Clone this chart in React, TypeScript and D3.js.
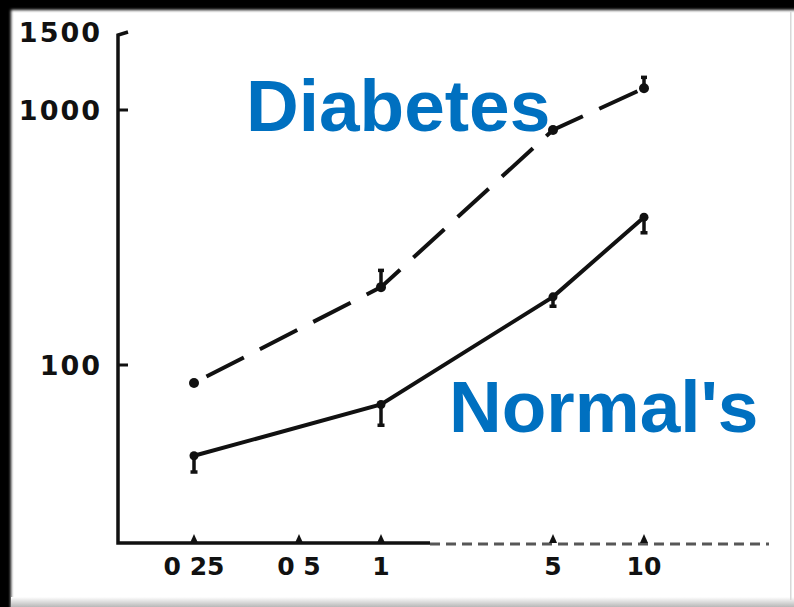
import React from "react";
import * as d3 from "d3";

const doses = [0.25, 0.5, 1, 5, 10];
const xTickLabels = ["0 25", "0 5", "1", "5", "10"];
const yTicks = [100, 1000, 1500];
const yTickLabels = ["100", "1000", "1500"];

const diabetesX = [0.25, 1, 5, 10];
const diabetesY = [85, 202, 835, 1120];
const diabetesErrHi = [85, 235, 835, 1185];

const normalX = [0.25, 1, 5, 10];
const normalY = [44, 70, 185, 380];
const normalErrLo = [38, 58, 170, 330];

const W = 794;
const H = 607;

export default function App() {
  const x = d3.scaleLog().domain([0.25, 0.5, 1, 5, 10]).range([194, 299, 381, 553, 644]);
  const y = d3.scaleLog().domain([20, 100, 1000, 1500]).range([543, 365, 110, 32]);
  const x0 = 118;
  const y0 = 543;

  const line = d3
    .line<[number, number]>()
    .x((d) => x(d[0]))
    .y((d) => y(d[1]))
    .curve(d3.curveLinear);

  const diab: [number, number][] = diabetesX.map((v, i) => [v, diabetesY[i]]);
  const norm: [number, number][] = normalX.map((v, i) => [v, normalY[i]]);

  const ink = "#111";
  const labelFont = "'DejaVu Sans', sans-serif";

  return (
    <svg
      width={W}
      height={H}
      style={{ position: "absolute", left: 0, top: 0, display: "block" }}
    >
      <defs>
        <filter id="soft" x="-5%" y="-5%" width="110%" height="110%">
          <feGaussianBlur stdDeviation="1.6" />
        </filter>
        <linearGradient id="bot" x1="0" y1="0" x2="0" y2="1">
          <stop offset="0" stopColor="#ffffff" />
          <stop offset="1" stopColor="#b8b8b8" />
        </linearGradient>
      </defs>
      <rect x={0} y={0} width={W} height={H} fill="#000" />
      <rect x={11} y={10} width={W} height={H} fill="#fff" filter="url(#soft)" />
      <rect x={11} y={597} width={W} height={10} fill="url(#bot)" />
      <rect x={790} y={12} width={1.5} height={588} fill="#d8d8d8" />

      {/* y axis */}
      <path
        d={`M${x0 + 10},${y(1500)} L${x0},${y(1500) + 3} L${x0},${y0} L${430},${y0}`}
        fill="none"
        stroke={ink}
        strokeWidth={3.5}
      />
      <line
        x1={430}
        y1={y0 + 1}
        x2={769}
        y2={y0 + 1}
        stroke={ink}
        strokeWidth={3}
        strokeDasharray="10 6"
        opacity={0.7}
      />
      {yTicks.slice(0, 2).map((t) => (
        <line key={t} x1={x0} x2={x0 + 10} y1={y(t)} y2={y(t)} stroke={ink} strokeWidth={3} />
      ))}
      {yTicks.map((t, i) => (
        <text
          key={"yl" + t}
          x={102}
          y={y(t)}
          textAnchor="end"
          dominantBaseline="central"
          fontFamily={labelFont}
          fontWeight="bold"
          fontSize={27}
          letterSpacing={2}
          fill={ink}
        >
          {yTickLabels[i]}
        </text>
      ))}

      {/* x ticks */}
      {doses.map((d, i) => (
        <g key={"xt" + d}>
          <path
            d={`M${x(d) - 4},${y0} L${x(d)},${y0 - 9} L${x(d) + 4},${y0} Z`}
            fill={ink}
          />
          <text
            x={x(d)}
            y={y0 + 23}
            textAnchor="middle"
            dominantBaseline="central"
            fontFamily={labelFont}
            fontWeight="bold"
            fontSize={25}
            fill={ink}
          >
            {xTickLabels[i]}
          </text>
        </g>
      ))}

      {/* Diabetes dashed */}
      <path
        d={line(diab) || ""}
        fill="none"
        stroke={ink}
        strokeWidth={4}
        strokeDasharray="42 18"
        strokeDashoffset={-14}
      />
      {diab.map((d, i) => (
        <g key={"dp" + i}>
          <circle cx={x(d[0])} cy={y(d[1])} r={5} fill={ink} />
          {diabetesErrHi[i] > d[1] && (
            <g>
              <line
                x1={x(d[0])}
                x2={x(d[0])}
                y1={y(d[1])}
                y2={y(diabetesErrHi[i])}
                stroke={ink}
                strokeWidth={3.5}
              />
              <line
                x1={x(d[0]) - 3}
                x2={x(d[0]) + 3}
                y1={y(diabetesErrHi[i])}
                y2={y(diabetesErrHi[i])}
                stroke={ink}
                strokeWidth={3.5}
              />
            </g>
          )}
        </g>
      ))}

      {/* Normals solid */}
      <path d={line(norm) || ""} fill="none" stroke={ink} strokeWidth={4} />
      {norm.map((d, i) => (
        <g key={"np" + i}>
          <circle cx={x(d[0])} cy={y(d[1])} r={4.5} fill={ink} />
          <line
            x1={x(d[0])}
            x2={x(d[0])}
            y1={y(d[1])}
            y2={y(normalErrLo[i])}
            stroke={ink}
            strokeWidth={3.5}
          />
          <line
            x1={x(d[0]) - 3.5}
            x2={x(d[0]) + 3.5}
            y1={y(normalErrLo[i])}
            y2={y(normalErrLo[i])}
            stroke={ink}
            strokeWidth={3.5}
          />
        </g>
      ))}

      <text
        x={246}
        y={131}
        fontFamily="'Liberation Sans', Arial, sans-serif"
        fontWeight="bold"
        fontSize={73}
        fill="#0070C0"
      >
        Diabetes
      </text>
      <text
        x={449}
        y={432}
        fontFamily="'Liberation Sans', Arial, sans-serif"
        fontWeight="bold"
        fontSize={73}
        fill="#0070C0"
      >
        Normal's
      </text>
    </svg>
  );
}
